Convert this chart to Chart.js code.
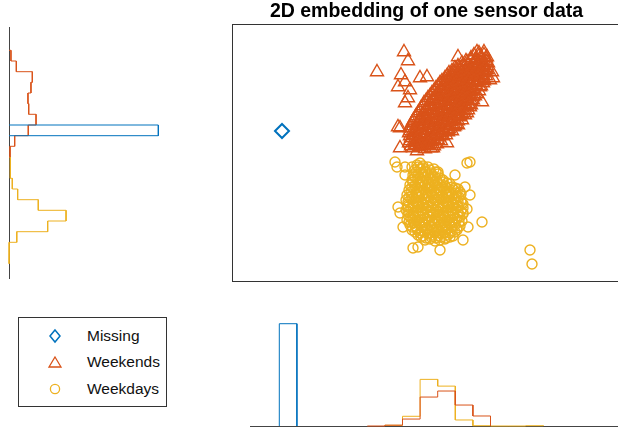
<!DOCTYPE html>
<html>
<head>
<meta charset="utf-8">
<script src="https://cdn.jsdelivr.net/npm/chart.js@4.4.1/dist/chart.umd.min.js"></script>
<style>
  html, body { margin: 0; padding: 0; width: 618px; height: 429px; overflow: hidden; background: #fff; }
  canvas { position: absolute; }
  #main { left: 232px; top: 0; }
  #histY { left: 4px; top: 20px; }
  #histX { left: 250px; top: 310px; }
  .legend {
    position: absolute; left: 18px; top: 317px; width: 149px; height: 90px;
    border: 1px solid #333; box-sizing: border-box;
    font-family: 'Liberation Sans', Arial, sans-serif; font-size: 15.5px; color: #111;
  }
  .legend .row { position: absolute; left: 0; width: 100%; height: 20px; line-height: 20px; }
  .legend svg { position: absolute; left: 28px; top: 2px; }
  .legend span { position: absolute; left: 68px; white-space: nowrap; }
</style>
</head>
<body>
<canvas id="main" width="389" height="282"></canvas>
<canvas id="histY" width="163" height="266"></canvas>
<canvas id="histX" width="371" height="120"></canvas>
<div class="legend">
  <div class="row" style="top:8px">
    <svg width="16" height="16"><polygon points="8,2 13,8 8,14 3,8" fill="none" stroke="#0072BD" stroke-width="1.5"/></svg>
    <span>Missing</span>
  </div>
  <div class="row" style="top:34px">
    <svg width="16" height="16"><polygon points="8,3 14,13 2,13" fill="none" stroke="#D95319" stroke-width="1.3"/></svg>
    <span>Weekends</span>
  </div>
  <div class="row" style="top:61px">
    <svg width="16" height="16"><circle cx="8" cy="8" r="4.6" fill="none" stroke="#EDB120" stroke-width="1.3"/></svg>
    <span>Weekdays</span>
  </div>
</div>
<script>
// embedding coordinates
const missingPts = [[-14.4, 2.2]];

const weekendsPts = [
  [5.3,10.0],[5.8,10.1],
  [4.8,9.8],[5.3,9.7],[5.8,9.8],
  [4.5,9.5],[5.0,9.4],[5.5,9.6],[6.0,9.5],
  [4.0,9.2],[4.5,9.3],[5.0,9.2],[5.5,9.3],[6.0,9.2],
  [3.6,9.0],[4.1,9.1],[4.7,8.9],[5.2,9.0],[5.7,9.1],[6.2,9.0],
  [3.2,8.7],[3.7,8.8],[4.2,8.7],[4.7,8.8],[5.2,8.7],[5.7,8.8],[6.1,8.7],
  [2.9,8.5],[3.4,8.4],[3.9,8.6],[4.4,8.5],[5.0,8.4],[5.5,8.6],[6.0,8.5],
  [2.6,8.2],[3.1,8.3],[3.6,8.2],[4.1,8.3],[4.6,8.2],[5.2,8.3],[5.7,8.2],[6.1,8.3],
  [2.3,8.0],[2.8,8.1],[3.3,7.9],[3.9,8.0],[4.4,8.1],[4.9,7.9],[5.4,8.0],[6.0,8.1],
  [2.1,7.7],[2.6,7.8],[3.1,7.7],[3.6,7.8],[4.1,7.7],[4.7,7.8],[5.2,7.7],[5.7,7.8],[6.0,7.7],
  [1.9,7.5],[2.5,7.4],[3.0,7.6],[3.5,7.5],[4.1,7.4],[4.6,7.6],[5.2,7.5],[5.8,7.4],
  [1.6,7.2],[2.2,7.3],[2.7,7.2],[3.2,7.3],[3.8,7.2],[4.3,7.3],[4.8,7.2],[5.4,7.3],[5.8,7.2],
  [1.4,7.0],[1.9,7.1],[2.4,6.9],[3.0,7.0],[3.5,7.1],[4.0,6.9],[4.5,7.0],[5.1,7.1],[5.7,7.0],
  [1.2,6.7],[1.7,6.8],[2.3,6.7],[2.8,6.8],[3.3,6.7],[3.9,6.8],[4.4,6.7],[5.0,6.8],[5.5,6.7],
  [1.0,6.5],[1.6,6.4],[2.1,6.6],[2.7,6.5],[3.2,6.4],[3.7,6.6],[4.3,6.5],[4.8,6.4],[5.4,6.6],
  [0.8,6.2],[1.4,6.3],[1.9,6.2],[2.5,6.3],[3.0,6.2],[3.6,6.3],[4.1,6.2],[4.7,6.3],[5.3,6.2],
  [0.6,6.0],[1.2,6.1],[1.7,5.9],[2.3,6.0],[2.8,6.1],[3.4,5.9],[3.9,6.0],[4.5,6.1],[5.1,5.9],
  [0.4,5.7],[1.0,5.8],[1.5,5.7],[2.1,5.8],[2.6,5.7],[3.2,5.8],[3.7,5.7],[4.3,5.8],[4.9,5.7],
  [0.2,5.5],[0.8,5.4],[1.4,5.6],[1.9,5.5],[2.5,5.4],[3.0,5.6],[3.6,5.5],[4.1,5.4],[4.7,5.6],
  [0.0,5.2],[0.6,5.3],[1.2,5.2],[1.7,5.3],[2.3,5.2],[2.8,5.3],[3.4,5.2],[3.9,5.3],[4.5,5.2],
  [-0.2,5.0],[0.4,5.1],[1.0,4.9],[1.5,5.0],[2.1,5.1],[2.6,4.9],[3.2,5.0],[3.7,5.1],[4.3,4.9],
  [-0.3,4.7],[0.3,4.8],[0.8,4.7],[1.4,4.8],[1.9,4.7],[2.5,4.8],[3.0,4.7],[3.6,4.8],[4.1,4.7],[4.5,4.8],
  [-0.5,4.5],[0.1,4.4],[0.7,4.6],[1.2,4.5],[1.8,4.4],[2.3,4.6],[2.9,4.5],[3.4,4.4],[4.0,4.6],
  [-0.6,4.2],[0.0,4.3],[0.5,4.2],[1.1,4.3],[1.6,4.2],[2.2,4.3],[2.7,4.2],[3.3,4.3],[3.8,4.2],[4.2,4.3],
  [-0.8,4.0],[-0.2,4.1],[0.3,3.9],[0.9,4.0],[1.4,4.1],[2.0,3.9],[2.5,4.0],[3.1,4.1],[3.6,3.9],[4.1,4.0],
  [-1.0,3.7],[-0.4,3.8],[0.1,3.7],[0.7,3.8],[1.2,3.7],[1.8,3.8],[2.3,3.7],[2.9,3.8],[3.4,3.7],[3.9,3.8],
  [-1.1,3.5],[-0.5,3.4],[0.0,3.6],[0.6,3.5],[1.1,3.4],[1.7,3.6],[2.2,3.5],[2.8,3.4],[3.3,3.6],
  [-1.3,3.2],[-0.7,3.3],[-0.2,3.2],[0.4,3.3],[0.9,3.2],[1.5,3.3],[2.0,3.2],[2.6,3.3],[3.2,3.2],[3.6,3.3],
  [-1.4,3.0],[-0.8,3.1],[-0.3,2.9],[0.3,3.0],[0.8,3.1],[1.4,2.9],[1.9,3.0],[2.5,3.1],[3.0,2.9],
  [-1.5,2.7],[-0.9,2.8],[-0.4,2.7],[0.2,2.8],[0.7,2.7],[1.3,2.8],[1.8,2.7],[2.4,2.8],[2.9,2.7],[3.2,2.8],
  [-1.6,2.5],[-1.0,2.4],[-0.5,2.6],[0.1,2.5],[0.6,2.4],[1.2,2.6],[1.7,2.5],[2.3,2.4],[2.8,2.6],
  [-1.6,2.2],[-1.0,2.3],[-0.5,2.2],[0.1,2.3],[0.6,2.2],[1.2,2.3],[1.7,2.2],[2.2,2.3],[2.6,2.2],
  [-1.7,2.0],[-1.2,2.1],[-0.6,1.9],[-0.1,2.0],[0.5,2.1],[1.0,1.9],[1.6,2.0],[2.2,2.1],
  [-1.6,1.7],[-1.1,1.8],[-0.5,1.7],[0.0,1.8],[0.6,1.7],[1.1,1.8],[1.6,1.7],[2.0,1.8],
  [-1.5,1.5],[-0.9,1.4],[-0.4,1.6],[0.2,1.5],[0.7,1.4],[1.3,1.6],
  [-1.6,1.2],[-1.0,1.3],[-0.5,1.2],[0.1,1.3],[0.6,1.2],[1.2,1.3],[1.5,1.2],
  [-1.7,1.0],[-1.1,1.1],[-0.6,0.9],[0.0,1.0],[0.5,1.1],[1.1,0.9],
  [-1.5,0.7],[-1.0,0.8],[-0.4,0.7],[0.2,0.8],[0.8,0.7],
  [-1.3,0.5],[-0.7,0.6],[-0.1,0.4],[0.5,0.5],
  // stragglers
  [-4.9,8.1],[-2.2,10.1],[-1.8,9.2],[-2.5,7.8],[-2.1,7.1],[-2.8,6.6],[-1.6,6.3],
  [-0.6,7.5],[0.1,7.6],[-2.6,2.5],[-2.8,2.6],[-2.6,0.5],[-0.9,0.2],[0.7,0.5],[2.1,1.0],
  [3.4,3.8],[5.1,10.1],[3.2,9.6],[6.4,7.3],[6.6,8.1],[5.6,5.1],[4.4,4.6],[-1.8,5.5],
  [-2.1,5.0],[6.1,9.6],[4.7,5.3],[6.7,7.5]
];

const weekdaysPts = [
  [-0.9,-1.2],[-0.3,-1.3],
  [-0.8,-1.4],[-0.3,-1.5],[0.2,-1.4],
  [-1.1,-1.7],[-0.6,-1.6],[-0.1,-1.8],[0.4,-1.7],[0.8,-1.6],
  [-1.0,-1.9],[-0.5,-2.0],[0.0,-1.9],[0.5,-2.0],[1.0,-1.9],
  [-1.3,-2.2],[-0.8,-2.3],[-0.3,-2.1],[0.2,-2.2],[0.7,-2.3],[1.2,-2.1],
  [-1.1,-2.4],[-0.6,-2.5],[-0.1,-2.4],[0.4,-2.5],[0.9,-2.4],[1.4,-2.5],
  [-1.4,-2.7],[-0.9,-2.6],[-0.4,-2.8],[0.1,-2.7],[0.6,-2.6],[1.1,-2.8],[1.7,-2.7],
  [-1.3,-2.9],[-0.8,-3.0],[-0.3,-2.9],[0.2,-3.0],[0.7,-2.9],[1.2,-3.0],[1.7,-2.9],[2.1,-3.0],
  [-1.6,-3.2],[-1.1,-3.3],[-0.6,-3.1],[-0.1,-3.2],[0.4,-3.3],[0.9,-3.1],[1.4,-3.2],[1.9,-3.3],[2.4,-3.1],
  [-1.4,-3.4],[-0.9,-3.5],[-0.4,-3.4],[0.1,-3.5],[0.6,-3.4],[1.1,-3.5],[1.6,-3.4],[2.1,-3.5],[2.6,-3.4],[2.9,-3.5],
  [-1.7,-3.7],[-1.2,-3.6],[-0.7,-3.8],[-0.2,-3.7],[0.3,-3.6],[0.8,-3.8],[1.3,-3.7],[1.8,-3.6],[2.3,-3.8],[2.8,-3.7],[3.2,-3.6],
  [-1.5,-3.9],[-1.0,-4.0],[-0.5,-3.9],[0.0,-4.0],[0.5,-3.9],[1.0,-4.0],[1.5,-3.9],[2.0,-4.0],[2.5,-3.9],[3.0,-4.0],[3.4,-3.9],
  [-1.9,-4.2],[-1.4,-4.3],[-0.9,-4.1],[-0.4,-4.2],[0.1,-4.3],[0.6,-4.1],[1.1,-4.2],[1.6,-4.3],[2.1,-4.1],[2.6,-4.2],[3.1,-4.3],[3.5,-4.1],
  [-1.7,-4.4],[-1.2,-4.5],[-0.7,-4.4],[-0.2,-4.5],[0.3,-4.4],[0.8,-4.5],[1.3,-4.4],[1.8,-4.5],[2.3,-4.4],[2.8,-4.5],[3.3,-4.4],
  [-2.0,-4.7],[-1.5,-4.6],[-1.0,-4.8],[-0.5,-4.7],[0.0,-4.6],[0.5,-4.8],[1.0,-4.7],[1.5,-4.6],[2.0,-4.8],[2.5,-4.7],[3.0,-4.6],[3.5,-4.8],
  [-1.8,-4.9],[-1.3,-5.0],[-0.8,-4.9],[-0.3,-5.0],[0.2,-4.9],[0.7,-5.0],[1.2,-4.9],[1.7,-5.0],[2.2,-4.9],[2.7,-5.0],[3.2,-4.9],[3.6,-5.0],
  [-1.8,-5.2],[-1.3,-5.3],[-0.8,-5.1],[-0.3,-5.2],[0.2,-5.3],[0.7,-5.1],[1.2,-5.2],[1.7,-5.3],[2.2,-5.1],[2.7,-5.2],[3.2,-5.3],[3.7,-5.1],
  [-1.8,-5.4],[-1.3,-5.5],[-0.8,-5.4],[-0.3,-5.5],[0.2,-5.4],[0.7,-5.5],[1.2,-5.4],[1.7,-5.5],[2.2,-5.4],[2.7,-5.5],[3.2,-5.4],[3.7,-5.5],
  [-2.0,-5.7],[-1.5,-5.6],[-1.0,-5.8],[-0.5,-5.7],[0.0,-5.6],[0.5,-5.8],[1.0,-5.7],[1.5,-5.6],[2.0,-5.8],[2.5,-5.7],[3.0,-5.6],[3.5,-5.8],
  [-1.8,-5.9],[-1.3,-6.0],[-0.8,-5.9],[-0.3,-6.0],[0.2,-5.9],[0.7,-6.0],[1.2,-5.9],[1.7,-6.0],[2.2,-5.9],[2.7,-6.0],[3.2,-5.9],[3.7,-6.0],
  [-1.8,-6.2],[-1.3,-6.3],[-0.8,-6.1],[-0.3,-6.2],[0.2,-6.3],[0.7,-6.1],[1.2,-6.2],[1.7,-6.3],[2.2,-6.1],[2.7,-6.2],[3.2,-6.3],[3.7,-6.1],
  [-1.6,-6.4],[-1.1,-6.5],[-0.6,-6.4],[-0.1,-6.5],[0.4,-6.4],[0.9,-6.5],[1.4,-6.4],[1.9,-6.5],[2.4,-6.4],[2.9,-6.5],[3.4,-6.4],
  [-1.9,-6.7],[-1.4,-6.6],[-0.9,-6.8],[-0.4,-6.7],[0.1,-6.6],[0.6,-6.8],[1.1,-6.7],[1.6,-6.6],[2.1,-6.8],[2.6,-6.7],[3.1,-6.6],[3.6,-6.8],
  [-1.7,-6.9],[-1.2,-7.0],[-0.7,-6.9],[-0.2,-7.0],[0.3,-6.9],[0.8,-7.0],[1.3,-6.9],[1.8,-7.0],[2.3,-6.9],[2.8,-7.0],[3.3,-6.9],
  [-1.6,-7.2],[-1.1,-7.3],[-0.6,-7.1],[-0.1,-7.2],[0.4,-7.3],[0.9,-7.1],[1.4,-7.2],[1.9,-7.3],[2.4,-7.1],[2.9,-7.2],[3.4,-7.3],
  [-1.4,-7.4],[-0.9,-7.5],[-0.4,-7.4],[0.1,-7.5],[0.6,-7.4],[1.1,-7.5],[1.6,-7.4],[2.1,-7.5],[2.6,-7.4],[3.1,-7.5],
  [-1.4,-7.7],[-0.9,-7.6],[-0.4,-7.8],[0.1,-7.7],[0.6,-7.6],[1.1,-7.8],[1.6,-7.7],[2.1,-7.6],[2.6,-7.8],[3.1,-7.7],
  [-1.1,-7.9],[-0.6,-8.0],[-0.1,-7.9],[0.4,-8.0],[0.9,-7.9],[1.4,-8.0],[1.9,-7.9],[2.4,-8.0],[2.9,-7.9],
  [-0.8,-8.2],[-0.3,-8.3],[0.2,-8.1],[0.7,-8.2],[1.2,-8.3],[1.7,-8.1],[2.2,-8.2],[2.7,-8.3],
  [-0.5,-8.4],[0.0,-8.5],[0.5,-8.4],[1.0,-8.5],[1.5,-8.4],[2.0,-8.5],[2.4,-8.4],
  [-0.1,-8.7],[0.4,-8.6],[0.9,-8.8],[1.4,-8.7],[1.9,-8.6],
  // stragglers
  [-3.1,-0.9],[-2.9,-1.4],[-2.1,-1.4],[-2.1,-2.2],[-1.4,-1.4],[-0.6,-1.0],[1.2,-1.9],
  [2.9,-2.2],[4.1,-1.0],[4.4,-0.9],[3.9,-3.4],[4.4,-4.2],[-2.8,-5.4],[-2.6,-6.0],
  [-2.3,-7.4],[4.2,-7.4],[4.1,-5.6],[-1.3,-9.5],[-0.8,-9.4],[1.4,-9.7],[3.7,-8.7],
  [5.6,-6.9],[10.4,-9.7],[10.6,-11.1]
];

// marginal histograms (probability per bin)
const yBinEdges = [10.27, 9.2, 8.13, 7.07, 6.0, 4.93, 3.87, 2.8, 1.73, 0.67, -0.4,
  -1.47, -2.53, -3.6, -4.67, -5.73, -6.8, -7.87, -8.93, -10.0, -11.07];
const missingYHist = [null, null, null, null, null, null, null, 1.0, null, null,
  null, null, null, null, null, null, null, null, null, null];
const weekendsYHist = [0.013, 0.049, 0.156, 0.147, 0.127, 0.132, 0.181, 0.129, 0.038, 0.007,
  null, null, null, null, null, null, null, null, null, null];
const weekdaysYHist = [null, null, null, null, null, null, null, null, null, null,
  0.009, 0.009, 0.022, 0.058, 0.196, 0.382, 0.259, 0.052, 0.002, 0.0];

const xBinEdges = [-14.67, -12.91, -11.15, -9.39, -7.63, -5.87, -4.11, -2.35, -0.59,
  1.17, 2.93, 4.69, 6.45, 8.21, 9.97, 11.73];
const missingXHist = [1.0, null, null, null, null, null, null, null, null, null, null, null, null, null, null];
const weekendsXHist = [null, null, null, null, null, 0.0, 0.008, 0.068, 0.283, 0.342, 0.205, 0.098, null, null, null];
const weekdaysXHist = [null, null, null, null, null, null, 0.007, 0.095, 0.456, 0.39, 0.059, 0.003, 0.0, 0.0, 0.003];

const colors = { missing: '#0072BD', weekends: '#D95319', weekdays: '#EDB120' };

function toXY(list) {
  return list.map(function (p) { return { x: p[0], y: p[1] }; });
}

// outline of a histogram, drawn as stairs from the baseline and back
function stairs(edges, values, vertical) {
  const pts = [];
  let last = -1;
  values.forEach(function (v, i) {
    if (v === null) return;
    if (!pts.length) pts.push([0, edges[i]]);
    pts.push([v, edges[i]], [v, edges[i + 1]]);
    last = i;
  });
  pts.push([0, edges[last + 1]]);
  return pts.map(function (p) {
    return vertical ? { x: p[0], y: p[1] } : { x: p[1], y: p[0] };
  });
}

function histSet(edges, values, color, vertical) {
  return {
    data: stairs(edges, values, vertical),
    showLine: true,
    borderColor: color,
    borderWidth: 1,
    pointRadius: 0,
    clip: false
  };
}

const boxFrame = {
  id: 'boxFrame',
  afterDatasetsDraw: function (chart) {
    const a = chart.chartArea, ctx = chart.ctx;
    ctx.save();
    ctx.strokeStyle = '#333';
    ctx.lineWidth = 1;
    ctx.strokeRect(a.left + 0.5, Math.round(a.top) + 0.5, a.right - a.left - 1, Math.round(a.bottom - a.top) - 1);
    ctx.restore();
  }
};

const axisLine = {
  id: 'axisLine',
  beforeDatasetsDraw: function (chart, args, opts) {
    const ctx = chart.ctx, sx = chart.scales.x, sy = chart.scales.y;
    ctx.save();
    ctx.strokeStyle = '#444';
    ctx.lineWidth = 1;
    ctx.beginPath();
    if (opts.vertical) {
      const px = Math.round(sx.getPixelForValue(0)) + 0.5;
      ctx.moveTo(px, sy.getPixelForValue(opts.from));
      ctx.lineTo(px, sy.getPixelForValue(opts.to));
    } else {
      const py = Math.round(sy.getPixelForValue(0)) + 0.5;
      ctx.moveTo(sx.getPixelForValue(opts.from), py);
      ctx.lineTo(sx.getPixelForValue(opts.to), py);
    }
    ctx.stroke();
    ctx.restore();
  }
};

const hidden = { display: false };
const flatLayout = { padding: 0, autoPadding: false };

new Chart(document.getElementById('main'), {
  type: 'scatter',
  data: {
    datasets: [
      { label: 'Weekdays', data: toXY(weekdaysPts), pointStyle: 'circle', pointRadius: 5,
        borderColor: colors.weekdays, backgroundColor: 'rgba(0,0,0,0)', borderWidth: 1.4, order: 0 },
      { label: 'Weekends', data: toXY(weekendsPts), pointStyle: 'triangle', pointRadius: 7.5,
        borderColor: colors.weekends, backgroundColor: 'rgba(0,0,0,0)', borderWidth: 1.4, order: 1 },
      { label: 'Missing', data: toXY(missingPts), pointStyle: 'rectRot', pointRadius: 7,
        borderColor: colors.missing, backgroundColor: 'rgba(0,0,0,0)', borderWidth: 2, order: 2 }
    ]
  },
  options: {
    responsive: false,
    animation: false,
    events: [],
    layout: flatLayout,
    scales: {
      x: { display: false, min: -19.4, max: 19.5 },
      y: { display: false, min: -12.9, max: 12.9 }
    },
    plugins: {
      legend: hidden,
      tooltip: { enabled: false },
      title: {
        display: true,
        text: '2D embedding of one sensor data',
        color: '#000',
        font: { family: "'Liberation Sans', Arial, sans-serif", size: 19.5, weight: 'bold', lineHeight: 1.15 },
        padding: { top: 0, bottom: 1.6 }
      }
    }
  },
  plugins: [boxFrame]
});

new Chart(document.getElementById('histY'), {
  type: 'scatter',
  data: {
    datasets: [
      histSet(yBinEdges, missingYHist, colors.missing, true),
      histSet(yBinEdges, weekendsYHist, colors.weekends, true),
      histSet(yBinEdges, weekdaysYHist, colors.weekdays, true)
    ]
  },
  options: {
    responsive: false,
    animation: false,
    events: [],
    layout: flatLayout,
    scales: {
      x: { display: false, min: -0.0335, max: 1.058 },
      y: { display: false, min: -13.3, max: 13.3 }
    },
    plugins: {
      legend: hidden,
      tooltip: { enabled: false },
      axisLine: { vertical: true, from: 12.6, to: -12.6 }
    }
  },
  plugins: [axisLine]
});

new Chart(document.getElementById('histX'), {
  type: 'scatter',
  data: {
    datasets: [
      histSet(xBinEdges, missingXHist, colors.missing, false),
      histSet(xBinEdges, weekendsXHist, colors.weekends, false),
      histSet(xBinEdges, weekdaysXHist, colors.weekdays, false)
    ]
  },
  options: {
    responsive: false,
    animation: false,
    events: [],
    layout: flatLayout,
    scales: {
      x: { display: false, min: -17.6, max: 19.5 },
      y: { display: false, min: -0.039, max: 1.134 }
    },
    plugins: {
      legend: hidden,
      tooltip: { enabled: false },
      axisLine: { vertical: false, from: -17.6, to: 19.5 }
    }
  },
  plugins: [axisLine]
});
</script>
</body>
</html>
